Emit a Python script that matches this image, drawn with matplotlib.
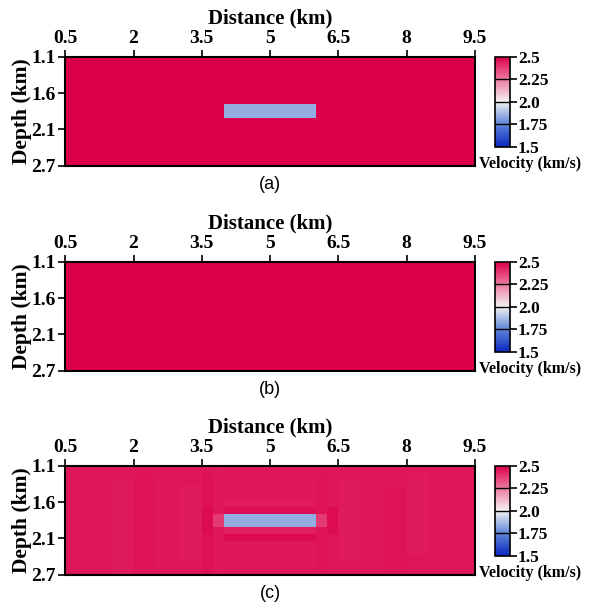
import numpy as np
import matplotlib
matplotlib.use("Agg")
import matplotlib.pyplot as plt
from matplotlib.colors import LinearSegmentedColormap

# model grid (km)
x_edges = np.arange(0.5, 9.5 + 0.001, 0.25)
z_edges = np.arange(1.1, 2.7 + 0.001, 0.1)

x_ticks = [0.5, 2, 3.5, 5, 6.5, 8, 9.5]
x_ticklabels = ['0.5', '2', '3.5', '5', '6.5', '8', '9.5']
z_ticklabels = ['1.1', '1.6', '2.1', '2.7']
cb_ticks = [1.5, 1.75, 2.0, 2.25, 2.5]
cb_ticklabels = ['1.5', '1.75', '2.0', '2.25', '2.5']
panel_labels = ['(a)', '(b)', '(c)']

# (a) true model, (b) initial model, (c) inverted model
# patches: (x0, x1, z0, z1, velocity)
true_bg = 2.5
true_patches = [(4.0, 6.0, 1.8, 2.0, 1.84)]

init_bg = 2.5
init_patches = []

inv_bg = 2.45
inv_patches = [
    (1.5, 2.0, 1.3, 2.7, 2.445),
    (2.0, 2.5, 1.2, 2.6, 2.46),
    (3.0, 3.5, 1.4, 2.5, 2.444),
    (3.5, 3.75, 1.2, 2.7, 2.462),
    (3.75, 4.0, 1.1, 2.7, 2.446),
    (4.0, 6.0, 1.6, 1.7, 2.445),
    (4.0, 6.0, 1.7, 1.8, 2.47),
    (4.0, 6.0, 2.0, 2.1, 2.43),
    (4.0, 6.0, 2.1, 2.2, 2.48),
    (3.5, 3.75, 1.7, 2.1, 2.475),
    (6.25, 6.5, 1.7, 2.1, 2.475),
    (6.0, 6.25, 1.2, 2.7, 2.46),
    (3.75, 4.0, 1.8, 2.0, 2.38),
    (6.0, 6.25, 1.8, 2.0, 2.38),
    (4.0, 6.0, 1.8, 2.0, 1.84),
    (6.5, 7.0, 1.3, 2.5, 2.445),
    (7.5, 8.0, 1.4, 2.7, 2.46),
    (8.0, 8.5, 1.2, 2.4, 2.445),
]


def build(bg, patches):
    xc = 0.5 * (x_edges[:-1] + x_edges[1:])
    zc = 0.5 * (z_edges[:-1] + z_edges[1:])
    v = np.full((len(zc), len(xc)), bg)
    for x0, x1, z0, z1, val in patches:
        mx = (xc > x0) & (xc < x1)
        mz = (zc > z0) & (zc < z1)
        v[np.ix_(mz, mx)] = val
    return v


models = [build(true_bg, true_patches),
          build(init_bg, init_patches),
          build(inv_bg, inv_patches)]

cmap = LinearSegmentedColormap.from_list(
    'vel', [(0, '#0a28c0'), (0.25, '#5f86d8'), (0.5, '#f2f2f2'),
            (0.75, '#ee7aa0'), (1, '#dc004c')])

plt.rcParams['font.family'] = 'Liberation Serif'
plt.rcParams['font.weight'] = 'bold'

W, H = 596, 615
fig = plt.figure(figsize=(W / 100, H / 100), dpi=100)

ax_left, ax_right = 65.2, 475.0
tops = [56.7, 261.7, 465.7]
ax_h = 109.0
cb_x0, cb_w, cb_h = 495, 14.5, 90

for i, v in enumerate(models):
    top = tops[i]
    ax = fig.add_axes([ax_left / W, 1 - (top + ax_h) / H,
                       (ax_right - ax_left) / W, ax_h / H])
    im = ax.imshow(v, cmap=cmap, vmin=1.5, vmax=2.5, aspect='auto',
                   interpolation='nearest',
                   extent=[0.5, 9.5, 2.7, 1.1])
    ax.xaxis.tick_top()
    ax.xaxis.set_label_position('top')
    ax.set_xticks(x_ticks)
    ax.set_xticklabels(x_ticklabels)
    ax.set_yticks(np.linspace(1.1, 2.7, 4))
    ax.set_yticklabels(z_ticklabels)
    ax.set_xlim(0.5, 9.5)
    ax.set_ylim(2.7, 1.1)
    ax.tick_params(direction='out', length=5, width=1.2, labelsize=14)
    ax.tick_params(axis='x', pad=2)
    ax.tick_params(axis='y', pad=2)
    for lab in ax.get_xticklabels() + ax.get_yticklabels():
        lab.set_fontweight('bold')
    ax.set_xlabel('Distance (km)', fontsize=15, fontweight='bold', labelpad=5)
    ax.set_ylabel('Depth (km)', fontsize=15.5, fontweight='bold', labelpad=-1)
    for s in ax.spines.values():
        s.set_linewidth(1.5)

    cax = fig.add_axes([cb_x0 / W, 1 - (top + cb_h) / H, cb_w / W, cb_h / H])
    cb = fig.colorbar(im, cax=cax, ticks=cb_ticks)
    cb.ax.set_yticklabels(cb_ticklabels)
    cb.ax.tick_params(direction='out', length=5, width=1.2, labelsize=12.5, pad=1)
    for lab in cb.ax.get_yticklabels():
        lab.set_fontweight('bold')
    for t in cb_ticks[1:-1]:
        cb.ax.axhline(t, color='black', lw=1.0)
    cb.outline.set_linewidth(1.2)
    fig.text(530 / W, 1 - (top + 107) / H, 'Velocity (km/s)', ha='center',
             va='center', fontsize=11.5, fontweight='bold')

    fig.text(270 / W, 1 - (top + 128) / H, panel_labels[i], ha='center',
             va='center', fontsize=13, fontweight='normal',
             family='Liberation Sans')

fig.savefig('out.png', dpi=100)
